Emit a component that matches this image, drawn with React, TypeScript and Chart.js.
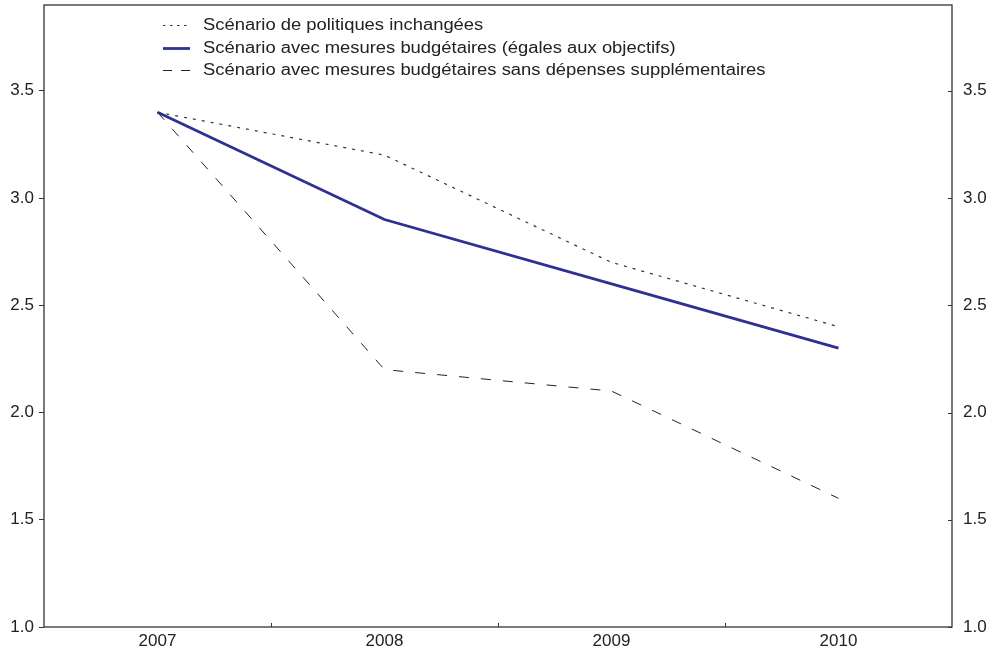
import React, { useEffect, useRef } from "react";
import { Chart, registerables } from "chart.js";

Chart.register(...registerables);

const years = ["2007", "2008", "2009", "2010"];
const politiquesInchangees = [3.4, 3.2, 2.7, 2.4];
const mesuresObjectifs = [3.4, 2.9, 2.6, 2.3];
const sansDepensesSupp = [3.4, 2.2, 2.1, 1.6];

const seriesLabels = [
  "Scénario de politiques inchangées",
  "Scénario avec mesures budgétaires (égales aux objectifs)",
  "Scénario avec mesures budgétaires sans dépenses supplémentaires",
];

// dash patterns used for the short legend samples
const legendDashes = [[2.5, 4.5], [], [9, 9]];

const yMin = 1.0;
const yMax = 3.9;
const yStep = 0.5;

const FONT_FAMILY = "'Liberation Sans', Arial, sans-serif";
const TEXT_COLOR = "#222222";
const AXIS_COLOR = "#333333";

// Frame around the plot, inward ticks on the right and bottom, and the legend
const framePlugin = {
  id: "frameAndLegend",
  afterDraw(chart: any) {
    const { ctx, chartArea } = chart;
    const { left, right, top, bottom } = chartArea;
    ctx.save();
    ctx.strokeStyle = AXIS_COLOR;
    ctx.lineWidth = 1.3;
    ctx.setLineDash([]);
    ctx.strokeRect(left, top, right - left, bottom - top);

    // inward ticks on the right axis
    const y2 = chart.scales.y2;
    ctx.lineWidth = 1;
    y2.ticks.forEach((t: any) => {
      const py = Math.round(y2.getPixelForValue(t.value)) + 0.5;
      ctx.beginPath();
      ctx.moveTo(right - 4, py);
      ctx.lineTo(right, py);
      ctx.stroke();
    });

    // inward ticks between categories on the bottom axis
    const xs = chart.scales.x;
    for (let i = 0; i < years.length - 1; i++) {
      const px = Math.round((xs.getPixelForTick(i) + xs.getPixelForTick(i + 1)) / 2) + 0.5;
      ctx.beginPath();
      ctx.moveTo(px, bottom);
      ctx.lineTo(px, bottom - 4);
      ctx.stroke();
    }

    // legend
    const ds = chart.data.datasets;
    const lx = left + 119;
    const sampleW = 27;
    const ty0 = top + 20;
    const rowH = 22.5;
    const stretch = 1.15;
    ctx.font = `16px ${FONT_FAMILY}`;
    ctx.textBaseline = "middle";
    ctx.textAlign = "left";
    ds.forEach((d: any, i: number) => {
      const y = Math.round(ty0 + i * rowH) + 0.5;
      ctx.strokeStyle = d.borderColor;
      ctx.lineWidth = d.borderWidth;
      ctx.setLineDash(legendDashes[i] || []);
      ctx.beginPath();
      ctx.moveTo(lx, y);
      ctx.lineTo(lx + sampleW, y);
      ctx.stroke();
      ctx.setLineDash([]);
      ctx.fillStyle = TEXT_COLOR;
      const tx = lx + sampleW + 13;
      ctx.save();
      ctx.translate(tx, y);
      ctx.scale(stretch, 1);
      ctx.fillText(d.label, 0, 0);
      ctx.restore();
    });
    ctx.restore();
  },
};

const fmt = (v: any) => Number(v).toFixed(1);

export default function App() {
  const canvasRef = useRef<HTMLCanvasElement | null>(null);

  useEffect(() => {
    if (!canvasRef.current) return;
    const tickFont = { family: FONT_FAMILY, size: 17 };
    const chart = new Chart(canvasRef.current, {
      type: "line",
      data: {
        labels: years,
        datasets: [
          {
            label: seriesLabels[0],
            data: politiquesInchangees,
            borderColor: "#333333",
            borderWidth: 1.2,
            borderDash: [3, 6],
            pointRadius: 0,
            fill: false,
            tension: 0,
            yAxisID: "y",
          },
          {
            label: seriesLabels[1],
            data: mesuresObjectifs,
            borderColor: "#2e3192",
            borderWidth: 2.8,
            pointRadius: 0,
            fill: false,
            tension: 0,
            yAxisID: "y",
          },
          {
            label: seriesLabels[2],
            data: sansDepensesSupp,
            borderColor: "#222222",
            borderWidth: 1,
            borderDash: [10, 12],
            pointRadius: 0,
            fill: false,
            tension: 0,
            yAxisID: "y",
          },
        ],
      },
      options: {
        responsive: false,
        animation: false,
        layout: { padding: { top: 5, left: 0, right: 0, bottom: 0 } },
        plugins: {
          legend: { display: false },
          tooltip: { enabled: false },
        },
        scales: {
          x: {
            type: "category",
            offset: true,
            grid: { display: false, drawTicks: false },
            border: { display: false },
            ticks: { font: tickFont, color: TEXT_COLOR, padding: 4, maxRotation: 0 },
            afterFit: (s: any) => {
              s.height = 25;
              s.paddingLeft = 0;
              s.paddingRight = 0;
            },
          },
          y: {
            position: "left",
            min: yMin,
            max: yMax,
            grid: { drawOnChartArea: false, drawTicks: true, tickLength: 5, color: AXIS_COLOR },
            border: { display: false },
            ticks: {
              stepSize: yStep,
              includeBounds: false,
              callback: fmt,
              font: tickFont,
              color: TEXT_COLOR,
              padding: 5,
            },
            afterFit: (s: any) => {
              s.width = 44;
              s.paddingTop = 0;
              s.paddingBottom = 0;
            },
          },
          y2: {
            position: "right",
            min: yMin,
            max: yMax,
            grid: { display: false, drawTicks: false },
            border: { display: false },
            ticks: {
              stepSize: yStep,
              includeBounds: false,
              callback: fmt,
              font: tickFont,
              color: TEXT_COLOR,
              padding: 11,
            },
            afterFit: (s: any) => {
              s.width = 39;
              s.paddingTop = 0;
              s.paddingBottom = 0;
            },
          },
        },
      },
      plugins: [framePlugin],
    } as any);
    return () => chart.destroy();
  }, []);

  return (
    <div style={{ position: "fixed", left: 0, top: 0, width: 991, height: 652, background: "#fff" }}>
      <canvas ref={canvasRef} width={991} height={652} />
    </div>
  );
}
